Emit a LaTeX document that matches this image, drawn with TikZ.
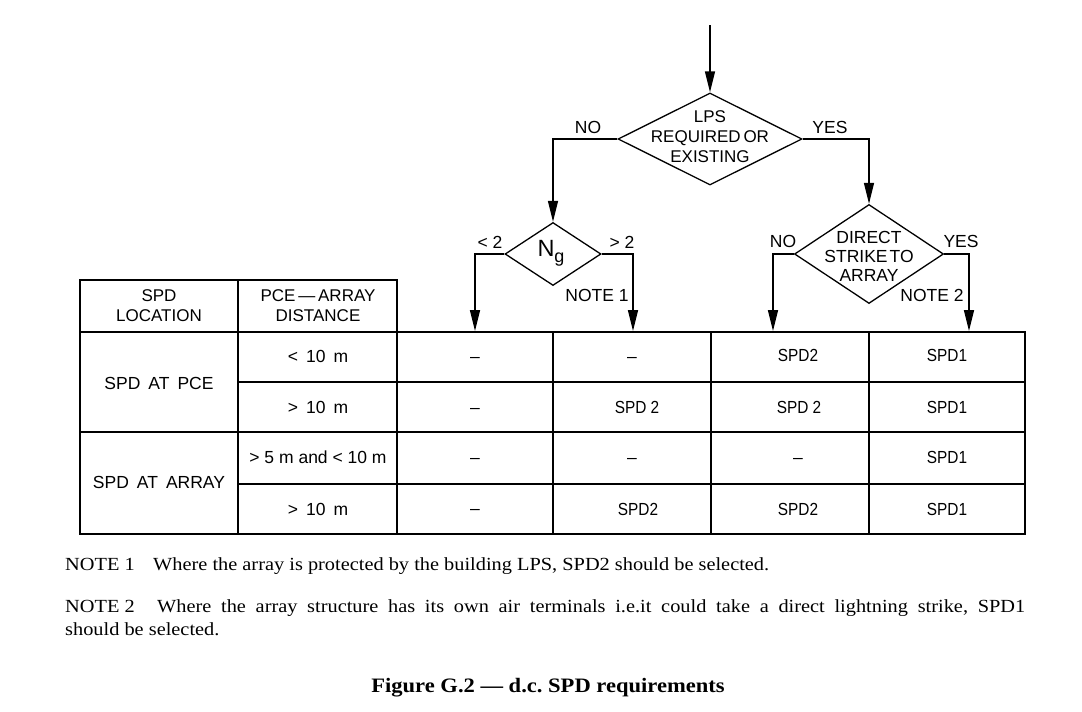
\documentclass[tikz,border=0pt]{standalone}
\usepackage{fontspec}
\setmainfont{Liberation Serif}
\newfontfamily\dfont{Liberation Sans}
\newfontfamily\cfont{Liberation Sans}[FakeStretch=0.88]
\newfontfamily\nfont{Liberation Serif}[FakeStretch=1.1]
\usetikzlibrary{shapes.geometric,arrows.meta}
\frenchspacing
\begin{document}
\begin{tikzpicture}[x=1pt,y=-1pt,
  dia/.style={draw,diamond,line width=1.3pt,inner sep=0pt},
  flow/.style={line width=1.4pt,-{Triangle[length=21pt,width=10pt]}},
  grid/.style={line width=1.7pt},
  cell/.style={font=\cfont\fontsize{17.5}{20}\selectfont,inner sep=0pt},
  nilcell/.style={font=\dfont\fontsize{17.5}{20}\selectfont,inner sep=0pt},
  lbl/.style={font=\dfont\fontsize{17.5}{20}\selectfont,inner sep=0pt,align=center},
  note/.style={font=\nfont\fontsize{18.5}{23}\selectfont,inner sep=0pt,anchor=base west}]
\useasboundingbox (0,0) rectangle (1082,712);
\fill[white] (0,0) rectangle (1082,712);
% diamonds
\node[dia,minimum width=184pt,minimum height=92pt] (lps) at (710,139) {};
\node[dia,minimum width=96pt,minimum height=63pt] (ng) at (553,254) {};
\node[dia,minimum width=149pt,minimum height=99pt] (ds) at (869,254) {};
\node[lbl,font=\dfont\fontsize{17}{20}\selectfont] (lpst) at (710,137) {LPS\\REQUIRED\,OR\\EXISTING};
\node[lbl,font=\dfont\fontsize{17.5}{19}\selectfont] (dst) at (869,256) {DIRECT\\STRIKE\kern2pt TO\\ARRAY};
\node[inner sep=0pt,font=\dfont\fontsize{23.5}{23}\selectfont] (ngt) at (551,253) {N\raisebox{-6pt}{\fontsize{18}{18}\selectfont g}};
% connectors
\coordinate (start) at (710,25);
\coordinate (c3) at (475,331);
\coordinate (c4) at (633,331);
\coordinate (c5) at (773,331);
\coordinate (c6) at (969,331);
\draw[flow] (start) -- (lps.north);
\draw[flow] (lps.west) -| (ng.north);
\draw[flow] (lps.east) -| (ds.north);
\draw[flow] (ng.west) -| (c3);
\draw[flow] (ng.east) -| (c4);
\draw[flow] (ds.west) -| (c5);
\draw[flow] (ds.east) -| (c6);
% branch labels
\node[lbl] (l1) at (588,127) {NO};
\node[lbl] (l2) at (830,127) {YES};
\node[lbl] (l3) at (490,242) {< 2};
\node[lbl] (l4) at (622,242) {> 2};
\node[lbl] (l5) at (597,295) {NOTE 1};
\node[lbl] (l6) at (783,241) {NO};
\node[lbl] (l7) at (961,241) {YES};
\node[lbl] (l8) at (932,295) {NOTE 2};
% table
\draw[grid] (80,280) rectangle (397,332);
\draw[grid] (80,332) rectangle (1025,534);
\draw[grid] (80,432) -- (1025,432);
\draw[grid] (238,382) -- (1025,382);
\draw[grid] (238,484) -- (1025,484);
\draw[grid] (238,280) -- (238,534);
\draw[grid] (397,280) -- (397,534);
\foreach \x in {553,711,869} \draw[grid] (\x,332) -- (\x,534);
% header and row labels
\node[lbl,font=\dfont\fontsize{17}{20}\selectfont] (h1) at (159,306) {SPD\\LOCATION};
\node[lbl,font=\dfont\fontsize{17}{20}\selectfont] (h2) at (318,306) {PCE\,—\,ARRAY\\DISTANCE};
\node[lbl] (r1) at (159,383) {SPD\hspace{8pt}AT\hspace{8pt}PCE};
\node[lbl] (r2) at (159,482) {SPD\hspace{8pt}AT\hspace{8pt}ARRAY};
\node[lbl] (d1) at (318,356) {<\hspace{8pt}10\hspace{8pt}m};
\node[lbl] (d2) at (318,407) {>\hspace{8pt}10\hspace{8pt}m};
\node[lbl] (d3) at (318,457) {> 5 m and < 10 m};
\node[lbl] (d4) at (318,509) {>\hspace{8pt}10\hspace{8pt}m};
% values
\node[nilcell] (a1) at (475,360) {–};
\node[nilcell] (a2) at (475,411) {–};
\node[nilcell] (a3) at (475,461) {–};
\node[nilcell] (a4) at (475,512) {–};
\node[nilcell] (b1) at (632,360) {–};
\node[cell] (b2) at (637,407) {SPD 2};
\node[nilcell] (b3) at (632,461) {–};
\node[cell] (b4) at (638,509) {SPD2};
\node[cell] (e1) at (798,355) {SPD2};
\node[cell] (e2) at (799,407) {SPD 2};
\node[nilcell] (e3) at (798,461) {–};
\node[cell] (e4) at (798,509) {SPD2};
\node[cell] (f1) at (947,355) {SPD1};
\node[cell] (f2) at (947,407) {SPD1};
\node[cell] (f3) at (947,457) {SPD1};
\node[cell] (f4) at (947,509) {SPD1};
% notes
\node[note] (n1) at (65,570) {NOTE 1};
\node[note] (n1t) at (153,570) {Where the array is protected by the building LPS, SPD2 should be selected.};
\node[note] (n2) at (65,612) {\hbox to 960pt{\makebox[92pt][l]{NOTE 2}Where the array structure has its own air terminals i.e.it could take a direct lightning strike, SPD1}};
\node[note] (n2b) at (65,635) {should be selected.};
\node[inner sep=0pt,font=\nfont\bfseries\fontsize{20.5}{24}\selectfont] (cap) at (548,688) {Figure G.2 — d.c. SPD requirements};
\end{tikzpicture}
\end{document}
